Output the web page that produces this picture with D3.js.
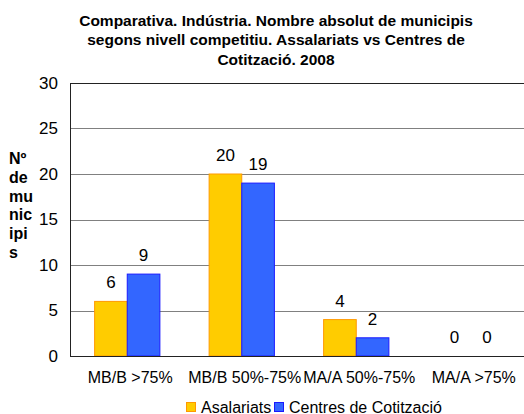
<!DOCTYPE html>
<html>
<head>
<meta charset="utf-8">
<script src="https://cdn.jsdelivr.net/npm/d3@7"></script>
<style>
  body { margin: 0; background: #fff; }
  svg { display: block; font-family: "Liberation Sans", Arial, sans-serif; }
</style>
</head>
<body>
<div id="chart"></div>
<script>
// chart data
var categories = ["MB/B >75%", "MB/B 50%-75%", "MA/A 50%-75%", "MA/A >75%"];
var seriesNames = ["Asalariats", "Centres de Cotització"];
var asalariats = [6, 20, 4, 0];
var centres = [9, 19, 2, 0];
var yTicks = [0, 5, 10, 15, 20, 25, 30];
var titleLines = ["Comparativa. Indústria. Nombre absolut de municipis",
                  "segons nivell competitiu. Assalariats vs Centres de",
                  "Cotització. 2008"];
var yTitleLines = ["Nº", "de", "mu", "nic", "ipi", "s"];

var fills = ["#FFCC00", "#3366FF"],
    strokes = ["#FF9900", "#1a1aff"];

var W = 524, H = 414;
var margin = {left: 70, top: 83, right: -4, bottom: 58};
var width = W - margin.left - margin.right,
    height = H - margin.top - margin.bottom;

var svg = d3.select("#chart").append("svg")
    .attr("width", W)
    .attr("height", H);

// title
svg.append("g").selectAll("text")
    .data(titleLines)
  .enter().append("text")
    .attr("x", 276)
    .attr("y", function(d, i) { return 25.5 + i * 19.7; })
    .attr("text-anchor", "middle")
    .style("font-weight", "bold")
    .style("font-size", "15.5px")
    .text(function(d) { return d; });

// y title, broken over lines like the original
svg.append("g").selectAll("text")
    .data(yTitleLines)
  .enter().append("text")
    .attr("x", 9)
    .attr("y", function(d, i) { return 164 + i * 18.8; })
    .style("font-weight", "bold")
    .style("font-size", "16px")
    .text(function(d) { return d; });

var g = svg.append("g")
    .attr("transform", "translate(" + margin.left + "," + margin.top + ")");

var x = d3.scaleBand().domain(categories).range([0, width])
    .paddingInner(0.43).paddingOuter(0.215);
var x1 = d3.scaleBand().domain(seriesNames).range([0, x.bandwidth()]);
var y = d3.scaleLinear().domain([0, 30]).range([height, 0]);

// gridlines
g.selectAll(".grid")
    .data(yTicks.slice(1))
  .enter().append("line")
    .attr("x1", 0).attr("x2", width)
    .attr("y1", function(d) { return Math.round(y(d)) + 0.5; })
    .attr("y2", function(d) { return Math.round(y(d)) + 0.5; })
    .style("stroke", function(d) { return d == 30 ? "#222" : "#808080"; })
    .style("stroke-width", 1);

// y axis labels
var yAxis = g.append("g")
    .call(d3.axisLeft(y).tickValues(yTicks).tickSize(0).tickPadding(12));
yAxis.select(".domain").remove();
yAxis.selectAll("text")
    .style("font-size", "17px")
    .style("font-family", "Liberation Sans, Arial, sans-serif")
    .attr("fill", "#000");

// bars
var series = [asalariats, centres];
series.forEach(function(vals, s) {
  g.selectAll(".bar" + s)
      .data(vals)
    .enter().append("rect")
      .attr("x", function(d, i) { return x(categories[i]) + x1(seriesNames[s]); })
      .attr("y", function(d) { return y(d); })
      .attr("width", x1.bandwidth())
      .attr("height", function(d) { return height - y(d); })
      .style("fill", fills[s])
      .style("stroke", strokes[s])
      .style("stroke-width", 1);

  g.selectAll(".lbl" + s)
      .data(vals)
    .enter().append("text")
      .attr("x", function(d, i) { return x(categories[i]) + x1(seriesNames[s]) + x1.bandwidth() / 2; })
      .attr("y", function(d) { return y(d) - 13; })
      .attr("text-anchor", "middle")
      .style("font-size", "17px")
      .text(function(d) { return d; });
});

// axis lines
g.append("line")
    .attr("x1", 0.5).attr("x2", 0.5)
    .attr("y1", 0).attr("y2", height)
    .style("stroke", "#222");
g.append("line")
    .attr("x1", 0).attr("x2", width)
    .attr("y1", height + 0.5).attr("y2", height + 0.5)
    .style("stroke", "#222");

// category labels
g.selectAll(".cat")
    .data(categories)
  .enter().append("text")
    .attr("x", function(d) { return x(d) + x.bandwidth() / 2 + 3; })
    .attr("y", height + 27)
    .attr("text-anchor", "middle")
    .style("font-size", "16px")
    .text(function(d) { return d; });

// legend
var legend = svg.append("g").attr("transform", "translate(186,402)");
var lx = [0, 88];
seriesNames.forEach(function(name, s) {
  legend.append("rect")
      .attr("x", lx[s] + 0.5).attr("y", 0.5)
      .attr("width", 9).attr("height", 9)
      .style("fill", fills[s])
      .style("stroke", strokes[s]);
  legend.append("text")
      .attr("x", lx[s] + 15)
      .attr("y", 10.5)
      .style("font-size", "16px")
      .text(name);
});
</script>
</body>
</html>
